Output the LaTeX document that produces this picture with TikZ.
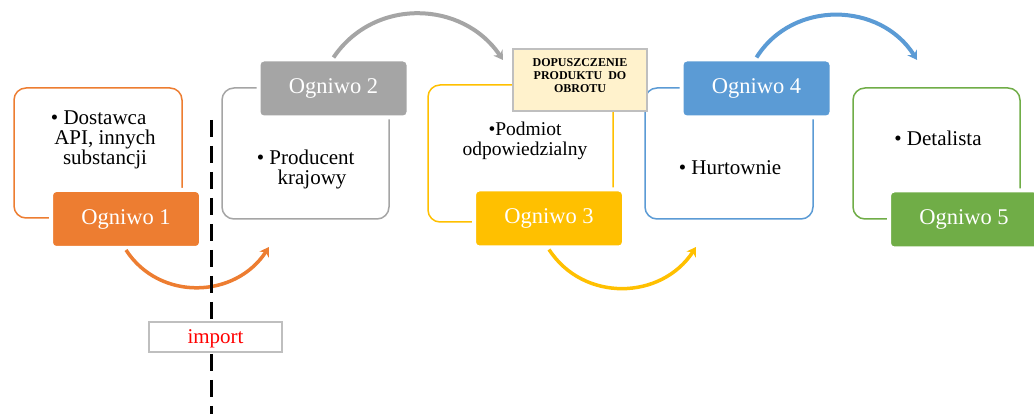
\documentclass[tikz,border=0pt]{standalone}
\usepackage{fontspec}
\setmainfont{Liberation Serif}
\usetikzlibrary{arrows.meta}
\definecolor{linkorange}{HTML}{ED7D31}
\definecolor{linkgray}{HTML}{A5A5A5}
\definecolor{linkgold}{HTML}{FFC000}
\definecolor{linkblue}{HTML}{5B9BD5}
\definecolor{linkgreen}{HTML}{70AD47}
\definecolor{noteyellow}{HTML}{FFF2CC}
\definecolor{frameline}{HTML}{BFBFBF}
\begin{document}
\begin{tikzpicture}[x=1pt,y=1pt,
  panel/.style={draw=#1, line width=1.5pt, rounded corners=12pt, fill=white, inner sep=0pt},
  tab/.style={fill=#1, draw=white, line width=4pt, rounded corners=5pt, text=white,
    font=\fontsize{22.5}{24}\selectfont, minimum width=150pt, minimum height=58pt, inner sep=0pt},
  body/.style={align=center, font=\fontsize{21}{20}\selectfont, inner sep=0pt},
  flow/.style={draw=#1, line width=3.5pt, -{Stealth[length=9pt,width=11pt]}, looseness=1.1},
]
\useasboundingbox (0,0) rectangle (1034,414);
\fill[white] (0,0) rectangle (1034,414);
\clip (0,0) rectangle (1034,414);

% outer frames of the five links
\node[panel=linkorange, minimum width=168pt, minimum height=130pt] (p1) at (98,261) {};
\node[panel=linkgray,   minimum width=167pt, minimum height=131pt] (p2) at (305.5,260.5) {};
\node[panel=linkgold,   minimum width=185pt, minimum height=137pt] (p3) at (520.5,260.5) {};
\node[panel=linkblue,   minimum width=168pt, minimum height=131pt] (p4) at (729,260.5) {};
\node[panel=linkgreen,  minimum width=167pt, minimum height=131pt] (p5) at (936.5,260.5) {};

% descriptions
\node[body] (t1) at (105,273.7) {\llap{\textbullet\ }Dostawca\\API, innych\\substancji};
\node[body] (t2) at (312,244.9) {\llap{\textbullet\ }Producent\\krajowy};
\node[body, font=\fontsize{19.5}{20}\selectfont] (t3) at (525,273.5) {\textbullet Podmiot\\odpowiedzialny};
\node[body, anchor=base] (t4) at (730,239) {\textbullet\ Hurtownie};
\node[body, anchor=base] (t5) at (938,268) {\textbullet\ Detalista};

% coloured tabs
\node[tab=linkorange] (k1) at (126,195) {Ogniwo 1};
\node[tab=linkgray]   (k2) at (333.5,325.5) {Ogniwo 2};
\node[tab=linkgold]   (k3) at (549,195.5) {Ogniwo 3};
\node[tab=linkblue]   (k4) at (756.5,325.5) {Ogniwo 4};
\node[tab=linkgreen]  (k5) at (964,194.5) {Ogniwo 5};

% market authorisation note
\node[draw=frameline, fill=noteyellow, line width=1.5pt, minimum width=134pt, minimum height=62pt, inner sep=0pt] (note) at (580,334) {};
\node[align=center, font=\bfseries\fontsize{12}{13}\selectfont, inner sep=0pt] (notetext) at (580,338)
  {DOPUSZCZENIE\\PRODUKTU\ \ DO\\OBROTU};

% flow arrows
\coordinate (e2) at (503,354);
\coordinate (e4) at (917,354);
\coordinate (e1) at (269,167);
\coordinate (e3) at (696,167);
\draw[flow=linkgray, line width=4pt, looseness=1.09] (k2.north) to[out=56, in=124] (e2);
\draw[flow=linkblue, line width=4pt, looseness=1.09] (k4.north) to[out=58, in=122] (e4);
\draw[flow=linkorange] (k1.south) to[out=-57, in=-123] (e1);
\draw[flow=linkgold] (k3.south) to[out=-57, in=-123] (e3);

% border line
\coordinate (cuttop) at (211.5,294);
\coordinate (cutbottom) at (211.5,-2);
\draw[black, line width=2.8pt, dash pattern=on 17pt off 9pt] (cuttop) -- (cutbottom);

\node[draw=frameline, fill=white, line width=1.2pt, minimum width=133pt, minimum height=30pt, inner sep=0pt,
  text=red, font=\fontsize{21}{22}\selectfont, text depth=1pt] (imp) at (215.5,77) {import};
\end{tikzpicture}
\end{document}
